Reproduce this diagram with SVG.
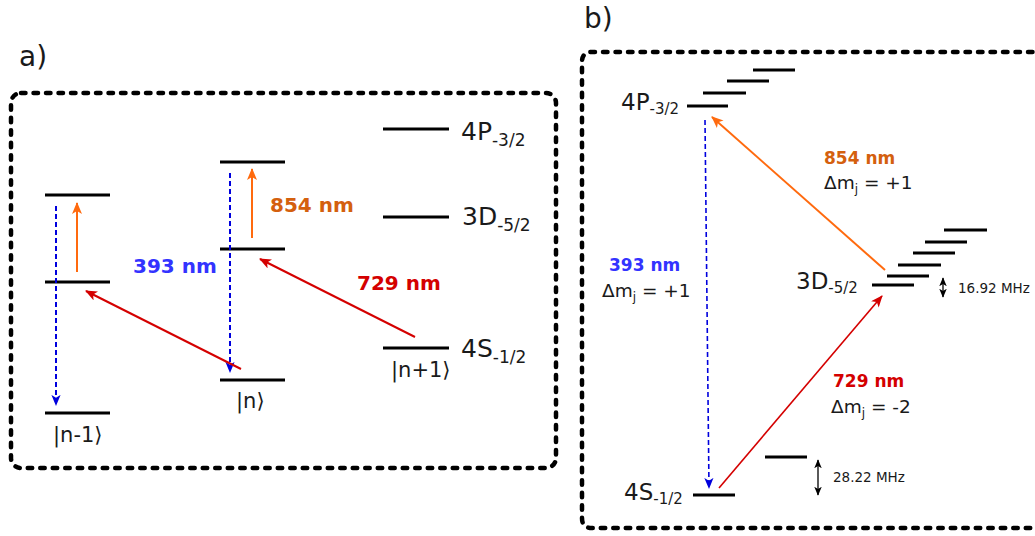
<svg xmlns="http://www.w3.org/2000/svg" width="1035" height="536" viewBox="0 0 1035 536">
<style>
text{font-family:"DejaVu Sans","Noto Sans",sans-serif;fill:#1a1a1a}
.frame{fill:none;stroke:#000;stroke-width:4.5;stroke-dasharray:4.5 8;stroke-linecap:round}
.lvl{stroke:#000;stroke-width:3}
.big{font-size:25px}
.sub{font-size:17px}
.ket{font-size:21px}
.nm{font-weight:bold;font-size:20px}
.nmb{font-weight:bold;font-size:17px}
.dm{font-size:18.5px}
.mhz{font-size:13.5px}
.blue{fill:#3333ff}
.orange{fill:#d4600e}
.red{fill:#d40000}
.ab{stroke:#0000dd;stroke-width:2;stroke-dasharray:5 3;fill:none}
.ao{stroke:#ff6a0e;stroke-width:2;fill:none}
.ar{stroke:#d40000;stroke-width:2;fill:none}
</style>
<defs>
<marker id="mb" viewBox="0 0 12 10" refX="11" refY="5" markerWidth="11" markerHeight="10" markerUnits="userSpaceOnUse" orient="auto"><path d="M0,0 L12,5 L0,10 L3,5 z" fill="#0000dd"/></marker>
<marker id="mo" viewBox="0 0 12 10" refX="11" refY="5" markerWidth="12" markerHeight="10" markerUnits="userSpaceOnUse" orient="auto"><path d="M0,0 L12,5 L0,10 L3,5 z" fill="#ff6a0e"/></marker>
<marker id="mr" viewBox="0 0 12 10" refX="11" refY="5" markerWidth="13" markerHeight="10" markerUnits="userSpaceOnUse" orient="auto"><path d="M0,0 L12,5 L0,10 L3,5 z" fill="#d40000"/></marker>
<marker id="mk" viewBox="0 0 12 10" refX="11" refY="5" markerWidth="9" markerHeight="8" markerUnits="userSpaceOnUse" orient="auto-start-reverse"><path d="M0,0 L12,5 L0,10 L3,5 z" fill="#000"/></marker>
</defs>

<!-- Panel a -->
<text x="19" y="66" style="font-size:28px">a)</text>
<rect class="frame" x="11" y="93" width="545" height="375" rx="10"/>

<g id="a-left-levels">
<line class="lvl" x1="45" y1="195" x2="110" y2="195"/>
<line class="lvl" x1="45" y1="282" x2="110" y2="282"/>
<line class="lvl" x1="45" y1="413" x2="110" y2="413"/>
<text class="ket" x="53" y="442">|n-1⟩</text>
</g>
<g id="a-mid-levels">
<line class="lvl" x1="220" y1="162" x2="285" y2="162"/>
<line class="lvl" x1="220" y1="249" x2="285" y2="249"/>
<line class="lvl" x1="220" y1="380" x2="285" y2="380"/>
<text class="ket" x="236" y="408">|n⟩</text>
</g>
<g id="a-right-levels">
<line class="lvl" x1="383" y1="129" x2="449" y2="129"/>
<line class="lvl" x1="383" y1="217" x2="449" y2="217"/>
<line class="lvl" x1="383" y1="348" x2="449" y2="348"/>
<text class="big" x="461" y="140">4P<tspan class="sub" dy="6">-3/2</tspan></text>
<text class="big" x="462" y="225">3D<tspan class="sub" dy="6">-5/2</tspan></text>
<text class="big" x="461" y="357">4S<tspan class="sub" dy="6">-1/2</tspan></text>
<text class="ket" x="391" y="377">|n+1⟩</text>
</g>

<g id="a-connectors">
<line class="ab" x1="56" y1="206" x2="56" y2="405" marker-end="url(#mb)"/>
<line class="ab" x1="230" y1="173" x2="230" y2="372" marker-end="url(#mb)"/>
<line class="ao" x1="77" y1="272" x2="77" y2="203" marker-end="url(#mo)"/>
<line class="ao" x1="252" y1="238" x2="252" y2="169" marker-end="url(#mo)"/>
<line class="ar" x1="241" y1="369" x2="86" y2="291" marker-end="url(#mr)"/>
<line class="ar" x1="415" y1="337" x2="260" y2="259" marker-end="url(#mr)"/>
</g>
<g id="a-labels">
<text class="nm blue" x="133" y="273">393 nm</text>
<text class="nm orange" x="270" y="212">854 nm</text>
<text class="nm red" x="357" y="290">729 nm</text>
</g>

<!-- Panel b -->
<text x="584" y="28" style="font-size:28px">b)</text>
<path class="frame" d="M1045,52 H592 Q582,52 582,62 V518 Q582,528 592,528 H1045"/>

<g id="b-4P">
<line class="lvl" x1="687" y1="106" x2="728" y2="106"/>
<line class="lvl" x1="703" y1="93" x2="746" y2="93"/>
<line class="lvl" x1="727" y1="81" x2="769" y2="81"/>
<line class="lvl" x1="753" y1="70" x2="795" y2="70"/>
<text x="621" y="110" style="font-size:23px">4P<tspan dy="4" style="font-size:15px">-3/2</tspan></text>
</g>
<g id="b-3D">
<line class="lvl" x1="872" y1="285" x2="914" y2="285"/>
<line class="lvl" x1="887" y1="276" x2="929" y2="276"/>
<line class="lvl" x1="898" y1="265" x2="941" y2="265"/>
<line class="lvl" x1="913" y1="253" x2="955" y2="253"/>
<line class="lvl" x1="925" y1="242" x2="967" y2="242"/>
<line class="lvl" x1="944" y1="230" x2="987" y2="230"/>
<text x="796" y="289" style="font-size:23px">3D<tspan dy="4" style="font-size:15px">-5/2</tspan></text>
<line x1="943" y1="278" x2="943" y2="297" stroke="#000" stroke-width="1.3" marker-start="url(#mk)" marker-end="url(#mk)"/>
<text class="mhz" x="958" y="293">16.92 MHz</text>
</g>
<g id="b-4S">
<line class="lvl" x1="693" y1="495" x2="735" y2="495"/>
<line class="lvl" x1="765" y1="457" x2="807" y2="457"/>
<text x="624" y="500" style="font-size:23px">4S<tspan dy="4" style="font-size:15px">-1/2</tspan></text>
<line x1="818" y1="460" x2="818" y2="495" stroke="#000" stroke-width="1.3" marker-start="url(#mk)" marker-end="url(#mk)"/>
<text class="mhz" x="833" y="482">28.22 MHz</text>
</g>

<g id="b-connectors">
<line class="ab" x1="705" y1="120" x2="709" y2="488" style="stroke-width:1.6" marker-end="url(#mb)"/>
<line class="ao" x1="885" y1="270" x2="712" y2="117" marker-end="url(#mo)"/>
<line class="ar" x1="719" y1="488" x2="882" y2="296" style="stroke-width:1.6" marker-end="url(#mr)"/>
</g>
<g id="b-labels">
<text class="nmb orange" x="824" y="164">854 nm</text>
<text class="dm" x="824" y="189">Δm<tspan style="font-size:12px" dy="4">j</tspan><tspan dy="-4"> = +1</tspan></text>
<text class="nmb blue" x="609" y="271">393 nm</text>
<text class="dm" x="602" y="297">Δm<tspan style="font-size:12px" dy="4">j</tspan><tspan dy="-4"> = +1</tspan></text>
<text class="nmb red" x="833" y="387">729 nm</text>
<text class="dm" x="831" y="413">Δm<tspan style="font-size:12px" dy="4">j</tspan><tspan dy="-4"> = -2</tspan></text>
</g>
</svg>
